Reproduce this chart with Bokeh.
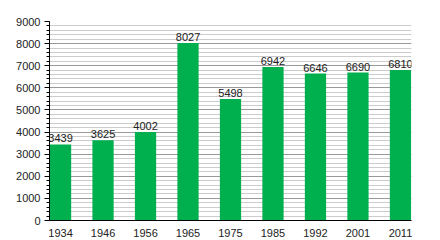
from bokeh.plotting import figure
from bokeh.models import ColumnDataSource, FixedTicker, Range1d, CustomJSTickFormatter
from bokeh.core.properties import value
from bokeh.embed import file_html
from bokeh.resources import INLINE

years = ["1934", "1946", "1956", "1965", "1975", "1985", "1992", "2001", "2011"]
population = [3439, 3625, 4002, 8027, 5498, 6942, 6646, 6690, 6810]
y_ticks = [0, 1000, 2000, 3000, 4000, 5000, 6000, 7000, 8000, 9000]

xs = list(range(len(years)))
src = ColumnDataSource(dict(x=xs, y=population, lab=[str(v) for v in population]))

p = figure(width=440, height=240, output_backend="svg", toolbar_location=None,
           x_range=Range1d(-0.26, len(years) - 1 + 0.26), y_range=Range1d(0, 9000),
           min_border_left=49, min_border_right=29, min_border_top=21, min_border_bottom=20)
p.outline_line_color = None
p.background_fill_color = "white"

p.vbar(x="x", top="y", width=0.5, source=src, fill_color="#00b04f", line_color=None)
p.text(x="x", y="y", text="lab", source=src, text_align="center", text_baseline="bottom",
       y_offset=-2, text_font=value("Liberation Sans"), text_font_size="11px", text_color="#222")

# y axis
p.yaxis.ticker = FixedTicker(ticks=y_ticks, minor_ticks=list(range(0, 9001, 200)))
p.yaxis.major_tick_out = 5
p.yaxis.major_tick_in = 0
p.yaxis.minor_tick_out = 3
p.yaxis.minor_tick_in = 0
p.yaxis.axis_line_color = "black"
p.yaxis.major_tick_line_color = "black"
p.yaxis.minor_tick_line_color = "black"
p.yaxis.major_label_text_font = "Liberation Sans"
p.yaxis.major_label_text_font_size = "11px"
p.yaxis.major_label_text_color = "#222"
p.yaxis.major_label_standoff = 4

# x axis
p.xaxis.ticker = FixedTicker(ticks=xs)
p.xaxis.formatter = CustomJSTickFormatter(args=dict(labels=years), code="return labels[tick];")
p.xaxis.major_tick_line_color = None
p.xaxis.minor_tick_line_color = None
p.xaxis.axis_line_color = "black"
p.xaxis.major_label_text_font = "Liberation Sans"
p.xaxis.major_label_text_font_size = "11px"
p.xaxis.major_label_text_color = "#222"
p.xaxis.major_label_standoff = 2

p.xgrid.grid_line_color = None
p.ygrid.grid_line_color = "#999999"
p.ygrid.minor_grid_line_color = "#cccccc"
p.ygrid.level = "underlay"

open("out.html", "w").write(file_html(p, INLINE))
